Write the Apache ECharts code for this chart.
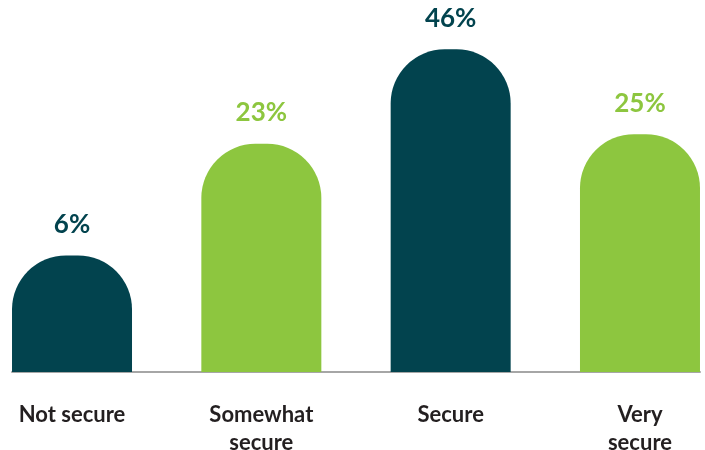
<!DOCTYPE html>
<html>
<head>
<meta charset="utf-8">
<script src="https://cdn.jsdelivr.net/npm/echarts@6/dist/echarts.min.js"></script>
<style>
  html, body { margin: 0; padding: 0; background: #fff; }
  #chart { width: 705px; height: 450px; }
</style>
</head>
<body>
<div id="chart"></div>
<script>
// data
var categories = ['Not secure', 'Somewhat\nsecure', 'Secure', 'Very\nsecure'];
var values = [6, 23, 46, 25];
var barColors = ['#02434e', '#8dc63f', '#02434e', '#8dc63f'];

// bar heights in the original grow with the square root of the share
var barData = values.map(function (v, i) {
  return {
    value: [i, Math.sqrt(v)],
    itemStyle: { color: barColors[i] },
    label: { color: barColors[i] }
  };
});

var myChart = echarts.init(document.getElementById('chart'), null, { renderer: 'canvas' });

var option = {
  animation: false,
  grid: { left: 12, right: 5, top: 39, bottom: 78, containLabel: false, outerBoundsMode: 'none' },
  xAxis: {
    type: 'value',
    min: -0.317,
    max: 3.317,
    splitLine: { show: false },
    axisLine: { show: true, lineStyle: { color: '#a6a6a6', width: 2 } },
    axisTick: { show: false },
    axisLabel: {
      customValues: [0, 1, 2, 3],
      formatter: function (v) { return categories[Math.round(v)]; },
      color: '#231f20',
      fontFamily: 'Lato',
      fontWeight: 'bold',
      fontSize: 22,
      lineHeight: 28,
      verticalAlign: 'top',
      margin: 29
    }
  },
  yAxis: {
    type: 'value',
    min: 0,
    max: 7,
    show: false
  },
  series: [
    {
      type: 'bar',
      barWidth: 120,
      data: barData,
      itemStyle: { borderRadius: [54, 54, 0, 0] },
      label: {
        show: true,
        position: 'top',
        distance: 18,
        fontFamily: 'Lato',
        fontWeight: 'bold',
        fontSize: 26,
        formatter: function (p) { return values[p.dataIndex] + '%'; }
      }
    }
  ]
};

myChart.setOption(option);
</script>
</body>
</html>
